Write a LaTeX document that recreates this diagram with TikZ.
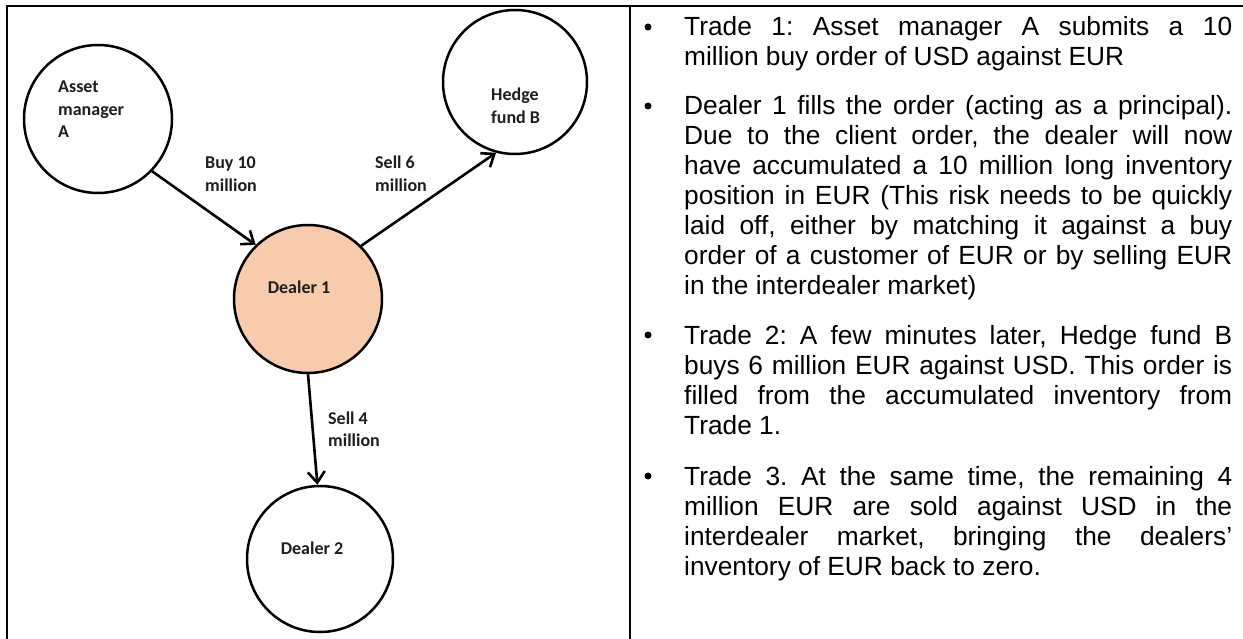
\documentclass[tikz,border=0pt]{standalone}
\usepackage{fontspec}
\setmainfont{Liberation Sans}
\newfontfamily\labelfont{Carlito}
\usetikzlibrary{arrows.meta}
\definecolor{peach}{RGB}{248,203,173}
\definecolor{ink}{RGB}{30,30,30}
% one fully justified line of the explanation column
\newcommand\jline[1]{\makebox[548pt][s]{#1}}
\frenchspacing

\begin{document}
\begin{tikzpicture}[x=1pt,y=-1pt,
  party/.style={circle, draw=black, line width=2.5pt, inner sep=0pt},
  flow/.style={line width=2.6pt, -{Straight Barb[length=11pt,width=17pt]}},
  tag/.style={font=\labelfont\bfseries\fontsize{18}{22.5}\selectfont, text=ink, inner sep=0pt, anchor=base west},
  para/.style={font=\fontsize{26.3}{30}\selectfont, inner sep=0pt, anchor=base west},
  dot/.style={circle, fill=black, inner sep=0pt, minimum size=7pt},
  rule/.style={line width=2pt}]
\useasboundingbox (0,0) rectangle (1243,639);
\fill[white] (0,0) rectangle (1243,639);

% table frame
\draw[rule] (6.5,639) -- (6.5,6.5) -- (1243,6.5);
\draw[rule] (630,6.5) -- (630,639);

% parties
\node[party, minimum size=148pt] (am) at (98,119) {};
\node[party, minimum size=144pt] (hf) at (515,82) {};
\node[party, minimum size=148pt, fill=peach] (d1) at (308,299) {};
\node[party, minimum size=146pt] (d2) at (320,559) {};

\node[tag] (amtxt) at (58,93) {\begin{tabular}[t]{@{}l@{}}Asset\\manager\\A\end{tabular}};
\node[tag] (hftxt) at (491,101) {\begin{tabular}[t]{@{}l@{}}Hedge\\fund B\end{tabular}};
\node[tag, anchor=base] (d1txt) at (299,294) {Dealer 1};
\node[tag, anchor=base] (d2txt) at (312,554) {Dealer 2};

% trades
\draw[flow] (am.-44) -- (d1.134);
\draw[flow] (d1.45) -- (hf.255);
\draw[flow] (d1.-90) -- (d2.92);

\node[tag] (buy) at (205,169) {\begin{tabular}[t]{@{}l@{}}Buy 10\\million\end{tabular}};
\node[tag] (sell6) at (375,169) {\begin{tabular}[t]{@{}l@{}}Sell 6\\million\end{tabular}};
\node[tag] (sell4) at (328,424) {\begin{tabular}[t]{@{}l@{}}Sell 4\\million\end{tabular}};

% explanation column
\node[dot] (b1) at (648,27) {};
\node[para] (p1) at (684,36) {\begin{tabular}[t]{@{}l@{}}
\jline{Trade 1: Asset manager A submits a 10}\\
million buy order of USD against EUR
\end{tabular}};

\node[dot] (b2) at (648,106) {};
\node[para] (p2) at (684,115) {\begin{tabular}[t]{@{}l@{}}
\jline{Dealer 1 fills the order (acting as a principal).}\\
\jline{Due to the client order, the dealer will now}\\
\jline{have accumulated a 10 million long inventory}\\
\jline{position in EUR (This risk needs to be quickly}\\
\jline{laid off, either by matching it against a buy}\\
\jline{order of a customer of EUR or by selling EUR}\\
in the interdealer market)
\end{tabular}};

\node[dot] (b3) at (648,335) {};
\node[para] (p3) at (684,344) {\begin{tabular}[t]{@{}l@{}}
\jline{Trade 2: A few minutes later, Hedge fund B}\\
\jline{buys 6 million EUR against USD. This order is}\\
\jline{filled from the accumulated inventory from}\\
Trade 1.
\end{tabular}};

\node[dot] (b4) at (648,476) {};
\node[para] (p4) at (684,485) {\begin{tabular}[t]{@{}l@{}}
\jline{Trade 3. At the same time, the remaining 4}\\
\jline{million EUR are sold against USD in the}\\
\jline{interdealer market, bringing the dealers’}\\
inventory of EUR back to zero.
\end{tabular}};
\end{tikzpicture}
\end{document}
